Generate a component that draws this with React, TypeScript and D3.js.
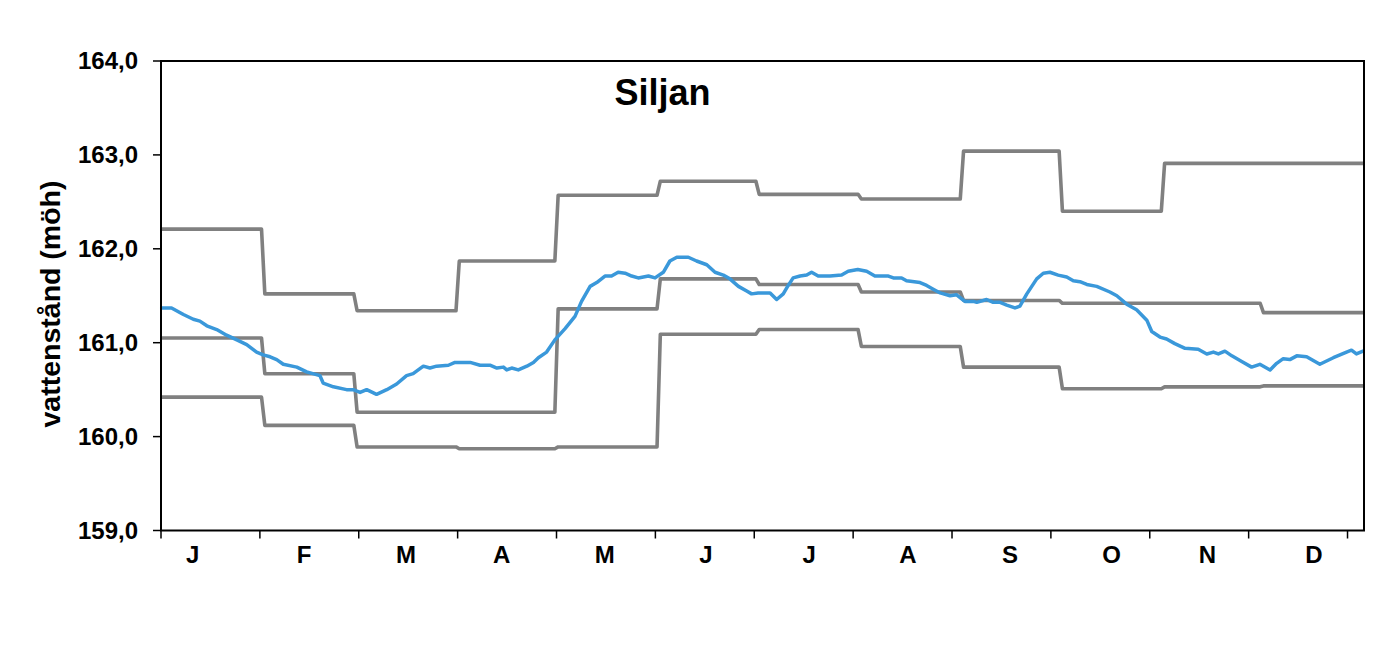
import React from "react";
import * as d3 from "d3";

// ---- data ----
const monthStarts = [0, 31, 59, 90, 120, 151, 181, 212, 243, 273, 304, 334, 365];
const maxLevels = [162.21, 161.52, 161.34, 161.87, 162.57, 162.72, 162.58, 162.53, 163.04, 162.40, 162.91, 162.91];
const meanLevels = [161.05, 160.67, 160.26, 160.26, 161.36, 161.68, 161.62, 161.54, 161.45, 161.42, 161.42, 161.32];
const minLevels = [160.42, 160.12, 159.89, 159.87, 159.89, 161.09, 161.14, 160.96, 160.74, 160.51, 160.53, 160.54];

const blueDays = [
  0.2, 3.2, 6.8, 9.8, 11.8, 13.9, 16.9, 19.9, 23.0, 26.0, 29.0, 31.0, 33.1, 35.1, 37.1, 41.2, 44.2, 48.2, 49.2, 52.3,
  56.3, 58.3, 60.4, 62.4, 65.4, 68.5, 71.5, 74.5, 76.5, 79.6, 81.6, 83.6, 87.2, 89.2, 93.8, 96.8, 99.8, 101.9, 103.9, 104.9,
  106.4, 108.4, 111.0, 113.0, 114.5, 117.0, 119.5, 122.6, 125.6, 127.6, 130.2, 132.2, 134.7, 136.7, 138.7, 140.8, 142.8, 144.8, 147.9, 149.9,
  152.4, 154.4, 156.5, 160.0, 162.5, 165.6, 168.1, 170.6, 172.6, 175.2, 177.7, 179.2, 181.2, 184.8, 186.8, 188.8, 190.3, 191.8, 193.9, 195.9,
  197.4, 199.4, 203.0, 206.5, 208.5, 211.4, 214.1, 216.6, 220.7, 222.2, 224.7, 226.2, 230.3, 232.3, 234.3, 236.4, 239.4, 241.4, 243.9, 246.5,
  247.5, 250.5, 252.5, 254.6, 256.6, 259.1, 260.6, 262.7, 265.7, 267.7, 269.7, 272.2, 274.8, 276.8, 278.8, 280.9, 283.9, 287.9, 290.0, 293.0,
  296.0, 299.1, 300.6, 303.1, 305.1, 307.6, 310.7, 314.7, 317.3, 319.3, 320.8, 322.8, 324.9, 327.9, 330.9, 333.4, 336.5, 338.5, 340.5, 342.5,
  344.6, 347.6, 351.6, 355.7, 359.7, 361.2, 362.7, 364.7,
];
const blueLevels = [
  161.37, 161.37, 161.30, 161.25, 161.23, 161.18, 161.14, 161.08, 161.03, 160.98, 160.90, 160.87, 160.85, 160.82, 160.77, 160.74, 160.69, 160.65, 160.57, 160.53,
  160.50, 160.50, 160.47, 160.50, 160.45, 160.50, 160.56, 160.65, 160.67, 160.75, 160.73, 160.75, 160.76, 160.79, 160.79, 160.76, 160.76, 160.73, 160.74, 160.71,
  160.73, 160.71, 160.75, 160.79, 160.84, 160.90, 161.03, 161.15, 161.28, 161.44, 161.60, 161.64, 161.71, 161.71, 161.75, 161.74, 161.71, 161.69, 161.71, 161.69,
  161.75, 161.87, 161.91, 161.91, 161.87, 161.83, 161.75, 161.72, 161.68, 161.60, 161.55, 161.52, 161.53, 161.53, 161.46, 161.52, 161.61, 161.69, 161.71, 161.72,
  161.75, 161.71, 161.71, 161.72, 161.76, 161.78, 161.76, 161.71, 161.71, 161.69, 161.69, 161.66, 161.64, 161.61, 161.57, 161.53, 161.50, 161.51, 161.44, 161.44,
  161.43, 161.46, 161.43, 161.43, 161.40, 161.37, 161.39, 161.52, 161.68, 161.74, 161.75, 161.72, 161.70, 161.66, 161.65, 161.62, 161.60, 161.54, 161.50, 161.41,
  161.35, 161.24, 161.12, 161.06, 161.04, 160.99, 160.94, 160.93, 160.88, 160.90, 160.88, 160.91, 160.86, 160.80, 160.74, 160.77, 160.71, 160.78, 160.83, 160.82,
  160.86, 160.85, 160.77, 160.84, 160.90, 160.92, 160.88, 160.91,
];

const yTicks = [159, 160, 161, 162, 163, 164];
const xTickDays = [0, 30, 60, 90, 120, 150, 180, 210, 240, 270, 300, 330, 360];
const monthLabels = ["J", "F", "M", "A", "M", "J", "J", "A", "S", "O", "N", "D"];
const monthLabelDays = [9.6, 43.4, 74.3, 103.4, 134.6, 165.3, 196.7, 226.6, 257.6, 288.4, 317.5, 349.8];

const title = "Siljan";
const yTitle = "vattenstånd (möh)";

// ---- layout ----
const W = 1387;
const H = 664;
const L = 161, R = 1364, T = 61, B = 530.5;
const FONT = "'Liberation Sans', Arial, Helvetica, sans-serif";

function stepPoints(vals: number[]): [number, number][] {
  const pts: [number, number][] = [];
  vals.forEach((v, i) => {
    const s = monthStarts[i];
    const e = monthStarts[i + 1];
    pts.push([i === 0 ? s : s + 0.5, v]);
    pts.push([i === vals.length - 1 ? e : e - 0.5, v]);
  });
  return pts;
}

export default function App() {
  const x = d3.scaleLinear().domain([0, 365]).range([L, R]);
  const y = d3.scaleLinear().domain([159, 164]).range([B, T]);
  const line = d3
    .line<[number, number]>()
    .x((d) => x(d[0]))
    .y((d) => y(d[1]));

  const bluePts: [number, number][] = blueDays.map((d, i) => [d, blueLevels[i]]);

  return (
    <svg
      width={W}
      height={H}
      style={{ position: "absolute", left: 0, top: 0, background: "#fff" }}
      fontFamily={FONT}
    >
      <rect x={0} y={0} width={W} height={H} fill="#fff" />
      {[maxLevels, meanLevels, minLevels].map((vals, i) => (
        <path
          key={i}
          d={line(stepPoints(vals)) || ""}
          fill="none"
          stroke="#808080"
          strokeWidth={3.6}
          strokeLinejoin="round"
        />
      ))}
      <path
        d={line(bluePts) || ""}
        fill="none"
        stroke="#3a98da"
        strokeWidth={3.5}
        strokeLinejoin="round"
        strokeLinecap="round"
      />
      {/* frame */}
      <rect x={L} y={T} width={R - L} height={B - T} fill="none" stroke="#000" strokeWidth={2} />
      {/* y ticks */}
      {yTicks.map((t) => (
        <g key={t}>
          <line x1={L - 8} x2={L} y1={y(t)} y2={y(t)} stroke="#000" strokeWidth={1.5} />
          <text
            x={138}
            y={y(t)}
            dy="0.35em"
            textAnchor="end"
            fontSize={24}
            fontWeight="bold"
            fill="#000"
          >
            {d3.format(".1f")(t).replace(".", ",")}
          </text>
        </g>
      ))}
      {/* x ticks */}
      {xTickDays.map((d) => (
        <line key={d} x1={x(d)} x2={x(d)} y1={B} y2={B + 8} stroke="#000" strokeWidth={1.5} />
      ))}
      {monthLabels.map((m, i) => (
        <text
          key={i}
          x={x(monthLabelDays[i])}
          y={562.5}
          textAnchor="middle"
          fontSize={24}
          fontWeight="bold"
          fill="#000"
        >
          {m}
        </text>
      ))}
      <text x={662.5} y={105} textAnchor="middle" fontSize={36} fontWeight="bold" fill="#000">
        {title}
      </text>
      <text
        transform={`translate(60,304) rotate(-90)`}
        textAnchor="middle"
        fontSize={28.5}
        fontWeight="bold"
        fill="#000"
      >
        {yTitle}
      </text>
    </svg>
  );
}
